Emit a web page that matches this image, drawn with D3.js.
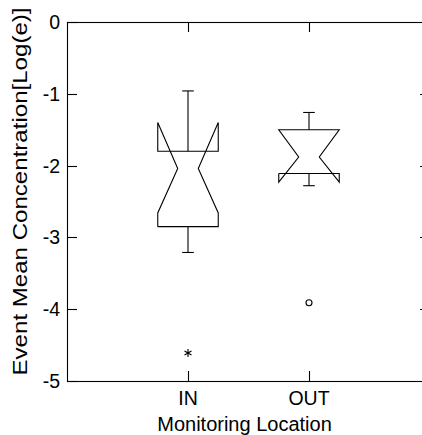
<!DOCTYPE html>
<html>
<head>
<meta charset="utf-8">
<script src="https://cdn.jsdelivr.net/npm/d3@7"></script>
<style>
  html, body { margin: 0; padding: 0; background: #fff; overflow: hidden; }
  svg { display: block; }
  text { font-family: "Liberation Sans", Arial, sans-serif; fill: #000; }
</style>
</head>
<body>
<svg id="chart" width="422" height="435"></svg>
<script>
// ---- data ----
const categories   = ["IN", "OUT"];
const upperWhisker = [-0.96, -1.26];
const notchHigh    = [-1.40, -1.50];
const q3           = [-1.80, -1.50];
const medians      = [-2.04, -1.88];
const notchLow     = [-2.66, -2.23];
const q1           = [-2.85, -2.11];
const lowerWhisker = [-3.21, -2.28];
const outlierCategory = ["IN", "OUT"];
const outlierValue    = [-4.61, -3.91];
const outlierMarker   = ["*", "o"];
const yTicks = [0, -1, -2, -3, -4, -5];
const xLabel = "Monitoring Location";
const yLabel = "Event Mean Concentration[Log(e)]";

(function () {
  const svg = d3.select("#chart");
  const pL = 67, pR = 430, pT = 22, pB = 381;
  const x = d3.scaleLinear().domain([0, categories.length + 1]).range([pL, pR]);
  const y = d3.scaleLinear().domain([0, -5]).range([pT, pB]);
  const xc = c => x(categories.indexOf(c) + 1);
  const boxHalf = 0.25, waistHalf = 0.085, capHalf = 0.048;
  const tickLen = 10;

  const g = svg.append("g").attr("fill", "none").attr("stroke", "#000").attr("stroke-width", 1.1);

  // frame
  g.append("rect").attr("x", pL + 0.5).attr("y", pT + 0.5)
    .attr("width", pR - pL).attr("height", pB - pT);

  // y ticks (left & right, inward)
  yTicks.forEach(t => {
    const yy = Math.round(y(t)) + 0.5;
    g.append("line").attr("x1", pL).attr("x2", pL + tickLen).attr("y1", yy).attr("y2", yy);
    g.append("line").attr("x1", pR - tickLen).attr("x2", pR).attr("y1", yy).attr("y2", yy);
  });
  // x ticks (top & bottom, inward)
  categories.forEach(c => {
    const xx = Math.round(xc(c)) + 0.5;
    g.append("line").attr("x1", xx).attr("x2", xx).attr("y1", pT).attr("y2", pT + tickLen);
    g.append("line").attr("x1", xx).attr("x2", xx).attr("y1", pB - tickLen).attr("y2", pB);
  });

  // tick labels
  svg.append("g").selectAll("text").data(yTicks).join("text")
    .attr("x", pL - 7).attr("y", d => y(d)).attr("dy", "0.36em")
    .attr("text-anchor", "end").attr("font-size", 19.5).text(d => d === 0 ? "0" : "-" + Math.abs(d));
  svg.append("g").selectAll("text").data(categories).join("text")
    .attr("x", d => xc(d)).attr("y", 405)
    .attr("text-anchor", "middle").attr("font-size", 19.5).text(d => d);

  // axis labels
  svg.append("text").attr("x", (pL + 422) / 2).attr("y", 431)
    .attr("text-anchor", "middle").attr("font-size", 20).text(xLabel);
  svg.append("text").attr("transform", `translate(27,${(6 + 377) / 2}) rotate(-90)`)
    .attr("text-anchor", "middle").attr("font-size", 21)
    .attr("textLength", 368).attr("lengthAdjust", "spacingAndGlyphs").text(yLabel);

  // boxes
  const line = d3.line();
  categories.forEach((c, i) => {
    const cx = i + 1;
    const L = x(cx - boxHalf), R = x(cx + boxHalf);
    const wL = x(cx - waistHalf), wR = x(cx + waistHalf);
    const pts = [
      [L, y(q1[i])], [L, y(notchLow[i])], [wL, y(medians[i])], [L, y(notchHigh[i])], [L, y(q3[i])],
      [R, y(q3[i])], [R, y(notchHigh[i])], [wR, y(medians[i])], [R, y(notchLow[i])], [R, y(q1[i])],
      [L, y(q1[i])]
    ];
    g.append("path").attr("d", line(pts)).attr("stroke-linejoin", "miter");
    const X = x(cx);
    g.append("line").attr("x1", X).attr("x2", X).attr("y1", y(q3[i])).attr("y2", y(upperWhisker[i]));
    g.append("line").attr("x1", X).attr("x2", X).attr("y1", y(q1[i])).attr("y2", y(lowerWhisker[i]));
    g.append("line").attr("x1", x(cx - capHalf)).attr("x2", x(cx + capHalf))
      .attr("y1", y(upperWhisker[i])).attr("y2", y(upperWhisker[i]));
    g.append("line").attr("x1", x(cx - capHalf)).attr("x2", x(cx + capHalf))
      .attr("y1", y(lowerWhisker[i])).attr("y2", y(lowerWhisker[i]));
  });

  // outliers
  outlierValue.forEach((v, i) => {
    const X = xc(outlierCategory[i]), Y = y(v);
    if (outlierMarker[i] === "o") {
      g.append("circle").attr("cx", X).attr("cy", Y).attr("r", 3);
    } else {
      g.append("path").attr("transform", `translate(${X},${Y})`)
        .attr("d", d3.symbol().type(d3.symbolAsterisk).size(45)());
    }
  });
})();
</script>
</body>
</html>
